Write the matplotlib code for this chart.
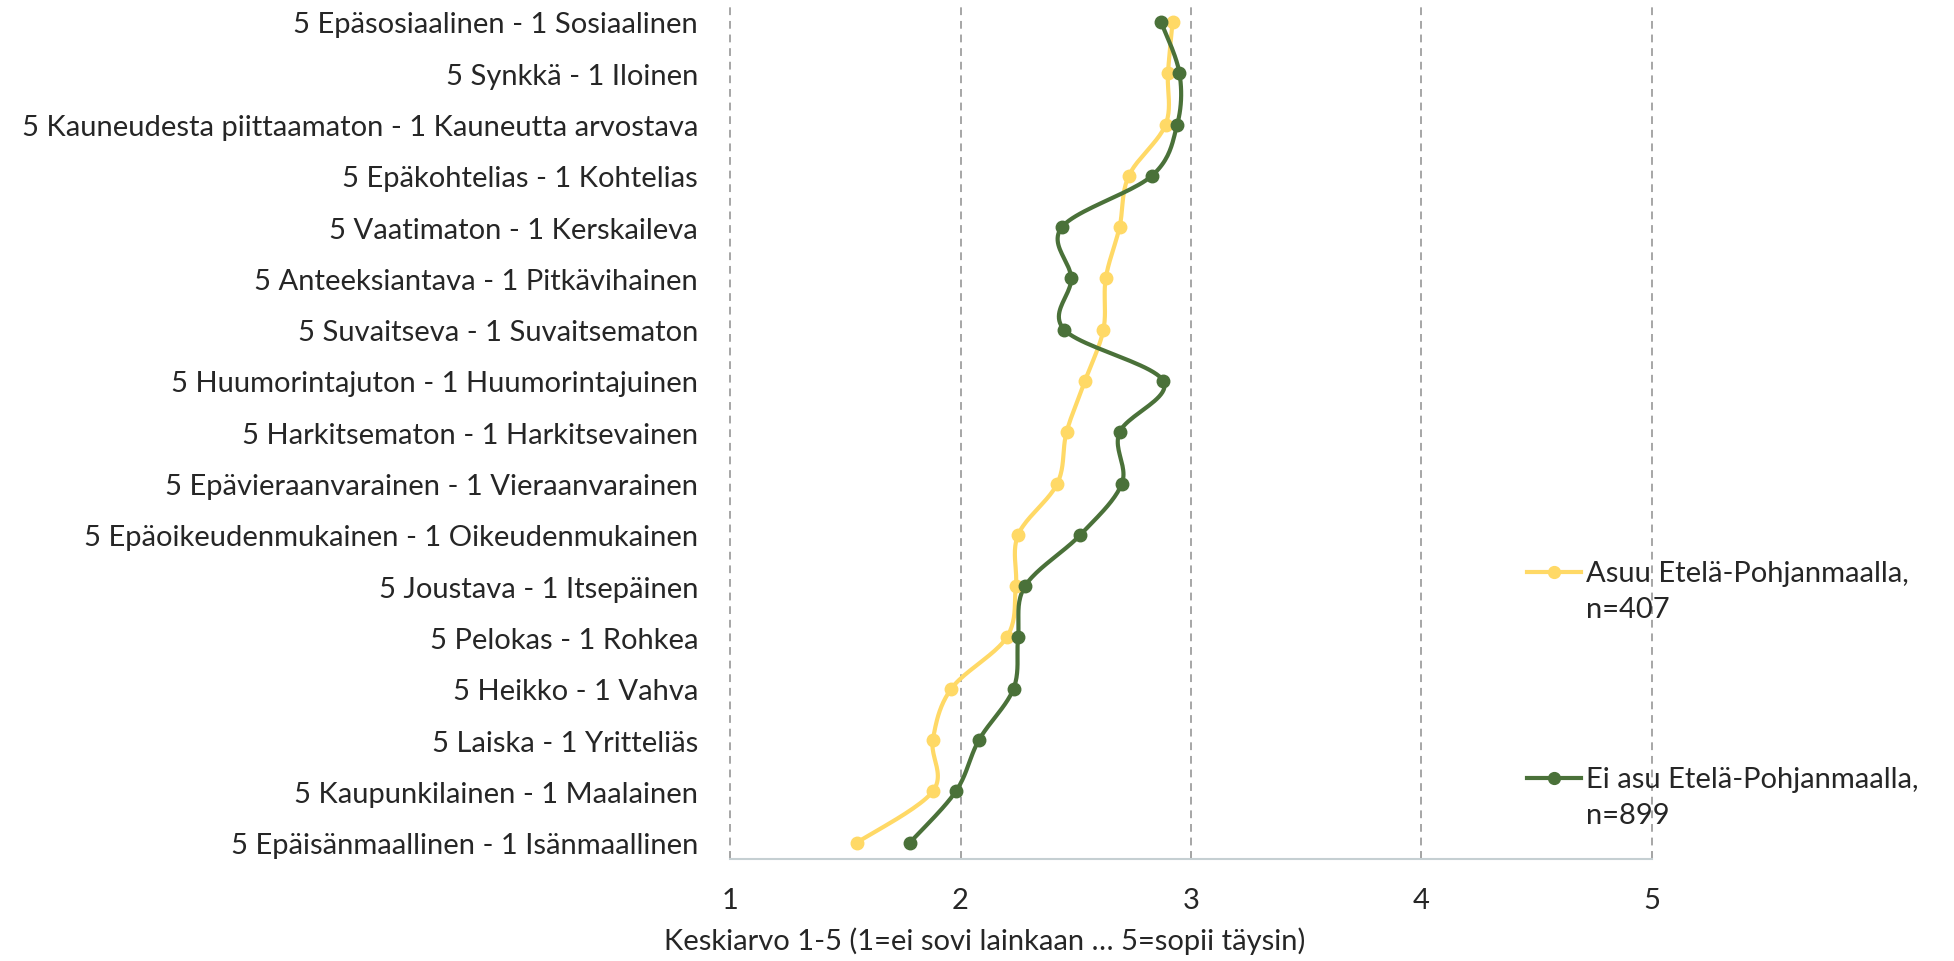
import numpy as np
import matplotlib
matplotlib.use("Agg")
import matplotlib.pyplot as plt
from matplotlib.lines import Line2D

plt.rcParams["font.family"] = ["Lato", "DejaVu Sans"]

categories = [
    "5 Epäsosiaalinen - 1 Sosiaalinen",
    "5 Synkkä - 1 Iloinen",
    "5 Kauneudesta piittaamaton - 1 Kauneutta arvostava",
    "5 Epäkohtelias - 1 Kohtelias",
    "5 Vaatimaton - 1 Kerskaileva",
    "5 Anteeksiantava - 1 Pitkävihainen",
    "5 Suvaitseva - 1 Suvaitsematon",
    "5 Huumorintajuton - 1 Huumorintajuinen",
    "5 Harkitsematon - 1 Harkitsevainen",
    "5 Epävieraanvarainen - 1 Vieraanvarainen",
    "5 Epäoikeudenmukainen - 1 Oikeudenmukainen",
    "5 Joustava - 1 Itsepäinen",
    "5 Pelokas - 1 Rohkea",
    "5 Heikko - 1 Vahva",
    "5 Laiska - 1 Yritteliäs",
    "5 Kaupunkilainen - 1 Maalainen",
    "5 Epäisänmaallinen - 1 Isänmaallinen",
]
asuu = [2.92, 2.90, 2.89, 2.73, 2.69, 2.63, 2.62, 2.54, 2.46,
        2.42, 2.25, 2.24, 2.20, 1.96, 1.88, 1.88, 1.55]
ei_asu = [2.87, 2.95, 2.94, 2.83, 2.44, 2.48, 2.45, 2.88, 2.69,
          2.70, 2.52, 2.28, 2.25, 2.23, 2.08, 1.98, 1.78]
series_labels = ["Asuu Etelä-Pohjanmaalla,\nn=407",
                 "Ei asu Etelä-Pohjanmaalla,\nn=899"]
x_ticks = [1, 2, 3, 4, 5]
x_label = "Keskiarvo 1-5 (1=ei sovi lainkaan … 5=sopii täysin)"

YELLOW = "#FFD966"
GREEN = "#4A7139"
TEXT = "#262626"
FS = 21
W, H = 1954, 962


def smooth(ax, xs, ys, n=24):
    # Excel-style smoothed line: cubic Bezier through the points, in pixel space
    pts = ax.transData.transform(np.column_stack([xs, ys]))
    p = np.vstack([pts[0], pts, pts[-1]])
    t = np.linspace(0, 1, n)[1:, None]
    out = [pts[:1]]
    for i in range(1, len(p) - 2):
        p0, p1, p2, p3 = p[i - 1], p[i], p[i + 1], p[i + 2]
        c1 = p1 + (p2 - p0) / 6
        c2 = p2 - (p3 - p1) / 6
        out.append((1 - t) ** 3 * p1 + 3 * (1 - t) ** 2 * t * c1
                   + 3 * (1 - t) * t ** 2 * c2 + t ** 3 * p2)
    return ax.transData.inverted().transform(np.vstack(out))


fig = plt.figure(figsize=(W / 100, H / 100), dpi=100)
ax = fig.add_axes([730 / W, 1 - 860 / H, (1652 - 730) / W, (860 - 5) / H])
ax.set_xlim(1, 5)
ax.set_ylim(16.32, -0.35)

ypos = np.arange(len(categories))
for vals, col in [(asuu, YELLOW), (ei_asu, GREEN)]:
    curve = smooth(ax, vals, ypos)
    ax.plot(curve[:, 0], curve[:, 1], color=col, lw=3.0, solid_capstyle="round", zorder=3)
    ax.plot(vals, ypos, "o", color=col, ms=9, zorder=4)

ax.set_yticks(ypos)
ax.set_yticklabels(categories, fontsize=FS, color=TEXT)
ax.tick_params(axis="y", length=0, pad=23)
ax.set_xticks(x_ticks)
ax.set_xticklabels([str(v) for v in x_ticks], fontsize=FS, color=TEXT)
ax.tick_params(axis="x", direction="in", length=6, width=1.2, color="#A6A6A6", pad=20)

ax.grid(axis="x", color="#A6A6A6", linestyle=(0, (4, 3)), linewidth=1.4)
for gl in ax.get_xgridlines():
    gl.set_clip_on(False)
for s in ["top", "right", "left"]:
    ax.spines[s].set_visible(False)
ax.spines["bottom"].set_color("#C5CFD2")
ax.spines["bottom"].set_linewidth(1.5)

fig.text(985 / W, 1 - 941 / H, x_label, fontsize=FS, color=TEXT, ha="center", va="center")

# legend drawn by hand so the handle lines up with the first text line
for lab, col, yc in [(series_labels[0], YELLOW, 573), (series_labels[1], GREEN, 779)]:
    fig.add_artist(Line2D([1527 / W, 1581 / W], [1 - yc / H] * 2, color=col, lw=3.0,
                          transform=fig.transFigure))
    fig.add_artist(Line2D([1554 / W], [1 - yc / H], marker="o", ms=8.5, color=col,
                          transform=fig.transFigure))
    fig.text(1586 / W, 1 - (yc - 12) / H, lab, fontsize=FS, color=TEXT,
             ha="left", va="top", linespacing=1.5)

fig.savefig("out.png", dpi=100)
